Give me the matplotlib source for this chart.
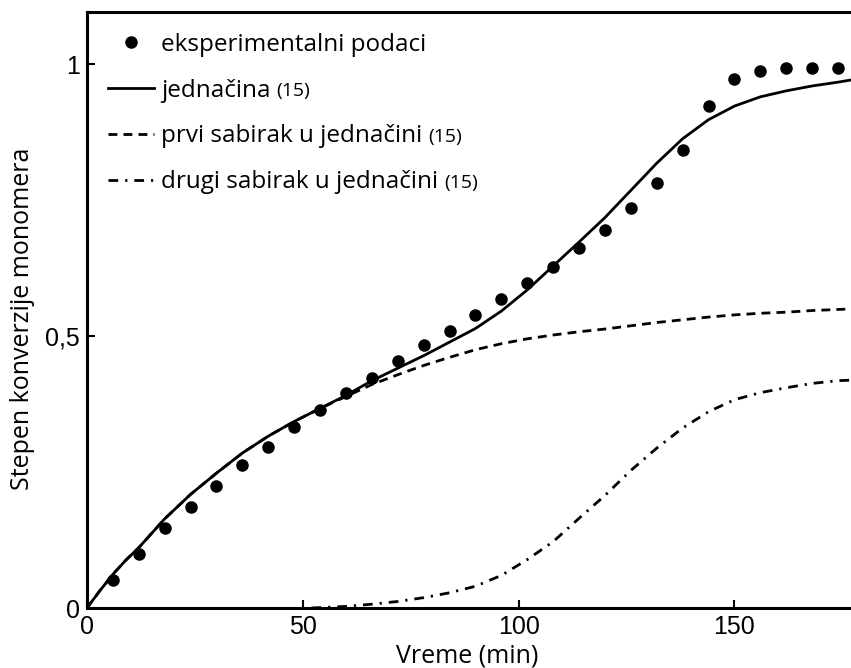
import matplotlib.pyplot as plt
from matplotlib.ticker import FixedLocator

# experimental points (every 6 min)
t_exp = [6, 12, 18, 24, 30, 36, 42, 48, 54, 60, 66, 72, 78, 84, 90, 96, 102, 108,
         114, 120, 126, 132, 138, 144, 150, 156, 162, 168, 174]
x_exp = [0.051, 0.100, 0.147, 0.186, 0.224, 0.263, 0.296, 0.333, 0.364, 0.395,
         0.423, 0.454, 0.483, 0.509, 0.539, 0.568, 0.597, 0.627, 0.662, 0.695,
         0.735, 0.781, 0.842, 0.924, 0.972, 0.988, 0.993, 0.993, 0.993]

# equation (15), full curve
t_eq = [0, 3, 6, 9, 12, 18, 24, 30, 36, 42, 48, 54, 60, 66, 72, 78, 84, 90, 96,
        102, 108, 114, 120, 126, 132, 138, 144, 150, 156, 162, 168, 174, 177]
x_eq = [0.0, 0.032, 0.062, 0.088, 0.111, 0.164, 0.209, 0.248, 0.285, 0.316,
        0.343, 0.367, 0.391, 0.418, 0.441, 0.464, 0.489, 0.514, 0.546, 0.585,
        0.629, 0.673, 0.718, 0.768, 0.818, 0.863, 0.898, 0.923, 0.940, 0.951,
        0.960, 0.967, 0.971]

# first term of equation (15)
t_first = [0, 3, 6, 9, 12, 18, 24, 30, 36, 42, 48, 54, 60, 66, 72, 78, 84, 90,
           96, 102, 108, 114, 120, 126, 132, 138, 144, 150, 156, 162, 168, 174, 177]
x_first = [0.0, 0.032, 0.062, 0.088, 0.111, 0.164, 0.209, 0.248, 0.285, 0.316,
           0.343, 0.367, 0.389, 0.411, 0.429, 0.446, 0.461, 0.475, 0.486, 0.495,
           0.502, 0.508, 0.513, 0.519, 0.525, 0.530, 0.535, 0.539, 0.542, 0.544,
           0.547, 0.549, 0.550]

# second term of equation (15)
t_second = [52, 60, 66, 72, 78, 84, 90, 96, 102, 108, 114, 120, 126, 132, 138,
            144, 150, 156, 162, 168, 174, 177]
x_second = [0.0, 0.003, 0.007, 0.012, 0.019, 0.028, 0.040, 0.060, 0.089, 0.122,
            0.165, 0.207, 0.253, 0.294, 0.331, 0.361, 0.383, 0.396, 0.405, 0.413,
            0.418, 0.419]

fig = plt.figure(figsize=(8.51, 6.68), dpi=100)
ax = fig.add_axes([87 / 851, 60 / 668, 764 / 851, 596 / 668])

ax.plot(t_exp, x_exp, "o", color="black", markersize=8, label="eksperimentalni podaci")
ax.plot(t_eq, x_eq, "-", color="black", linewidth=2.0, label="jednačina")
ax.plot(t_first, x_first, color="black", linewidth=2.0, linestyle=(0, (3.2, 2.2)),
        label="prvi sabirak u jednačini")
ax.plot(t_second, x_second, color="black", linewidth=2.0, linestyle=(0, (3.5, 2.5, 0.8, 2.5)),
        label="drugi sabirak u jednačini")

ax.set_xlim(0, 177)
ax.set_ylim(0, 1.096)
ax.xaxis.set_major_locator(FixedLocator([0, 50, 100, 150]))
ax.yaxis.set_major_locator(FixedLocator([0, 0.5, 1]))
ax.set_yticklabels(["0", "0,5", "1"])

for side in ["left", "bottom", "top"]:
    ax.spines[side].set_linewidth(2.2)
ax.spines["right"].set_visible(False)
ax.tick_params(direction="in", length=6, width=1.5, labelsize=18, pad=5)
for lab in ax.get_xticklabels() + ax.get_yticklabels():
    lab.set_fontfamily("Liberation Sans")

ax.set_xlabel("Vreme (min)", fontsize=18, family="Open Sans")
ax.set_ylabel("Stepen konverzije monomera", fontsize=18, family="Open Sans")
ax.xaxis.set_label_coords(0.497, -0.06)
ax.yaxis.set_label_coords(-0.068, 0.485)

leg = ax.legend(loc="upper left", bbox_to_anchor=(0.0, 1.0), frameon=False,
                prop={"family": "Open Sans", "size": 17.5}, handlelength=1.9,
                handletextpad=0.3, labelspacing=0.9, numpoints=1,
                borderaxespad=0.45)
for txt in leg.get_texts()[1:]:
    ax.annotate("(15)", xy=(1, 0), xycoords=txt, xytext=(4, 2),
                textcoords="offset points", va="bottom", ha="left",
                fontsize=14, family="Open Sans", zorder=10)

fig.savefig("out.png", dpi=100)
